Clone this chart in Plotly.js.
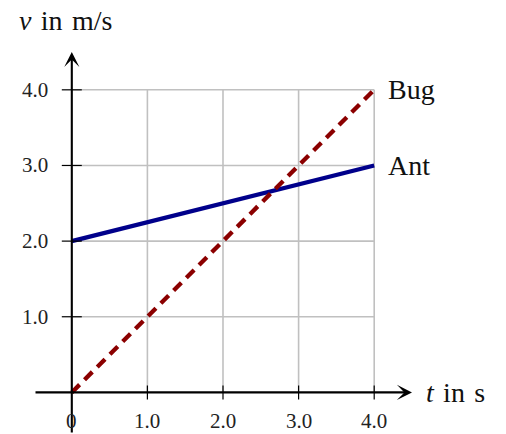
<!DOCTYPE html>
<html>
<head>
<meta charset="utf-8">
<script src="https://cdn.plot.ly/plotly-3.0.1.min.js"></script>
<style>html,body{margin:0;padding:0;background:#fff}#chart{width:506px;height:434px}</style>
</head>
<body>
<div id="chart"></div>
<script>
// Data
const time = [0, 1, 2, 3, 4];
const antV = [2, 2.25, 2.5, 2.75, 3];
const bugV = [0, 1, 2, 3, 4];
const seriesNames = ['Ant', 'Bug'];
const xTicks = [0, 1, 2, 3, 4];
const xTickText = ['0', '1.0', '2.0', '3.0', '4.0'];
const yTicks = [1, 2, 3, 4];
const yTickText = ['1.0', '2.0', '3.0', '4.0'];
const xTitle = '<i>t</i>\u2004in\u2004s';
const yTitle = '<i>v</i>\u2004in\u2004m/s';

const xMin = -0.5, xMax = 4.5, yMin = -0.55, yMax = 4.5;
const serif = 'Liberation Serif, Times New Roman, serif';
const gridColor = '#c0c0c0';

const traces = [
  {x: time, y: antV, mode: 'lines', name: seriesNames[0], line: {color: '#00008b', width: 4.3}, hoverinfo: 'skip'},
  {x: time, y: bugV, mode: 'lines', name: seriesNames[1], line: {color: '#8b0000', width: 4.3, dash: '11px,7px'}, hoverinfo: 'skip'}
];

const shapes = [];
const gx = xTicks.filter(v => v > 0), gy = yTicks;
const gMaxX = Math.max(...xTicks), gMaxY = Math.max(...yTicks);
gx.forEach(v => shapes.push({type: 'line', layer: 'below', xref: 'x', yref: 'y', x0: v, x1: v, y0: 0, y1: gMaxY, line: {color: gridColor, width: 1.6}}));
gy.forEach(v => shapes.push({type: 'line', layer: 'below', xref: 'x', yref: 'y', x0: 0, x1: gMaxX, y0: v, y1: v, line: {color: gridColor, width: 1.6}}));
// tick marks crossing the axes
gx.forEach(v => shapes.push({type: 'line', xref: 'x', yref: 'y', ysizemode: 'pixel', yanchor: 0, x0: v, x1: v, y0: -7, y1: 7, line: {color: '#000', width: 1.2}}));
gy.forEach(v => shapes.push({type: 'line', xref: 'x', yref: 'y', xsizemode: 'pixel', xanchor: 0, y0: v, y1: v, x0: -10, x1: 10, line: {color: '#000', width: 1.2}}));

const annotations = [];
// axis arrows
annotations.push({x: xMax, y: 0, ax: xMin, ay: 0, xref: 'x', yref: 'y', axref: 'x', ayref: 'y', showarrow: true, arrowhead: 3, arrowsize: 1.2, arrowwidth: 2.1, arrowcolor: '#000', text: ''});
annotations.push({x: 0, y: yMax, ax: 0, ay: yMin, xref: 'x', yref: 'y', axref: 'x', ayref: 'y', showarrow: true, arrowhead: 3, arrowsize: 1.2, arrowwidth: 2.1, arrowcolor: '#000', text: ''});
// tick labels
xTicks.forEach((v, i) => annotations.push({x: v, y: 0, xref: 'x', yref: 'y', yshift: -29, showarrow: false, text: xTickText[i], font: {family: serif, size: 21, color: '#222'}, xanchor: 'center', yanchor: 'middle'}));
yTicks.forEach((v, i) => annotations.push({x: 0, y: v, xref: 'x', yref: 'y', xshift: -22, showarrow: false, text: yTickText[i], font: {family: serif, size: 21, color: '#222'}, xanchor: 'right', yanchor: 'middle'}));
// series labels
annotations.push({x: time[time.length - 1], y: antV[antV.length - 1], xref: 'x', yref: 'y', xshift: 12, showarrow: false, text: seriesNames[0], font: {family: serif, size: 28, color: '#111'}, xanchor: 'left', yanchor: 'middle'});
annotations.push({x: time[time.length - 1], y: bugV[bugV.length - 1], xref: 'x', yref: 'y', xshift: 12, showarrow: false, text: seriesNames[1], font: {family: serif, size: 28, color: '#111'}, xanchor: 'left', yanchor: 'middle'});
// axis titles
annotations.push({x: xMax, y: 0, xref: 'x', yref: 'y', xshift: 12, showarrow: false, text: xTitle, font: {family: serif, size: 28, color: '#111'}, xanchor: 'left', yanchor: 'middle'});
annotations.push({x: xMin, y: yMax, xref: 'x', yref: 'y', xshift: -17, yshift: 32, showarrow: false, text: yTitle, font: {family: serif, size: 28, color: '#111'}, xanchor: 'left', yanchor: 'middle'});

const layout = {
  width: 506, height: 434,
  margin: {l: 34, r: 94, t: 52, b: 0},
  paper_bgcolor: '#fff', plot_bgcolor: '#fff',
  showlegend: false,
  xaxis: {range: [xMin, xMax], showgrid: false, zeroline: false, showline: false, showticklabels: false, ticks: ''},
  yaxis: {range: [yMin, yMax], showgrid: false, zeroline: false, showline: false, showticklabels: false, ticks: ''},
  shapes: shapes,
  annotations: annotations
};

Plotly.newPlot('chart', traces, layout, {staticPlot: true, displayModeBar: false});
</script>
</body>
</html>
